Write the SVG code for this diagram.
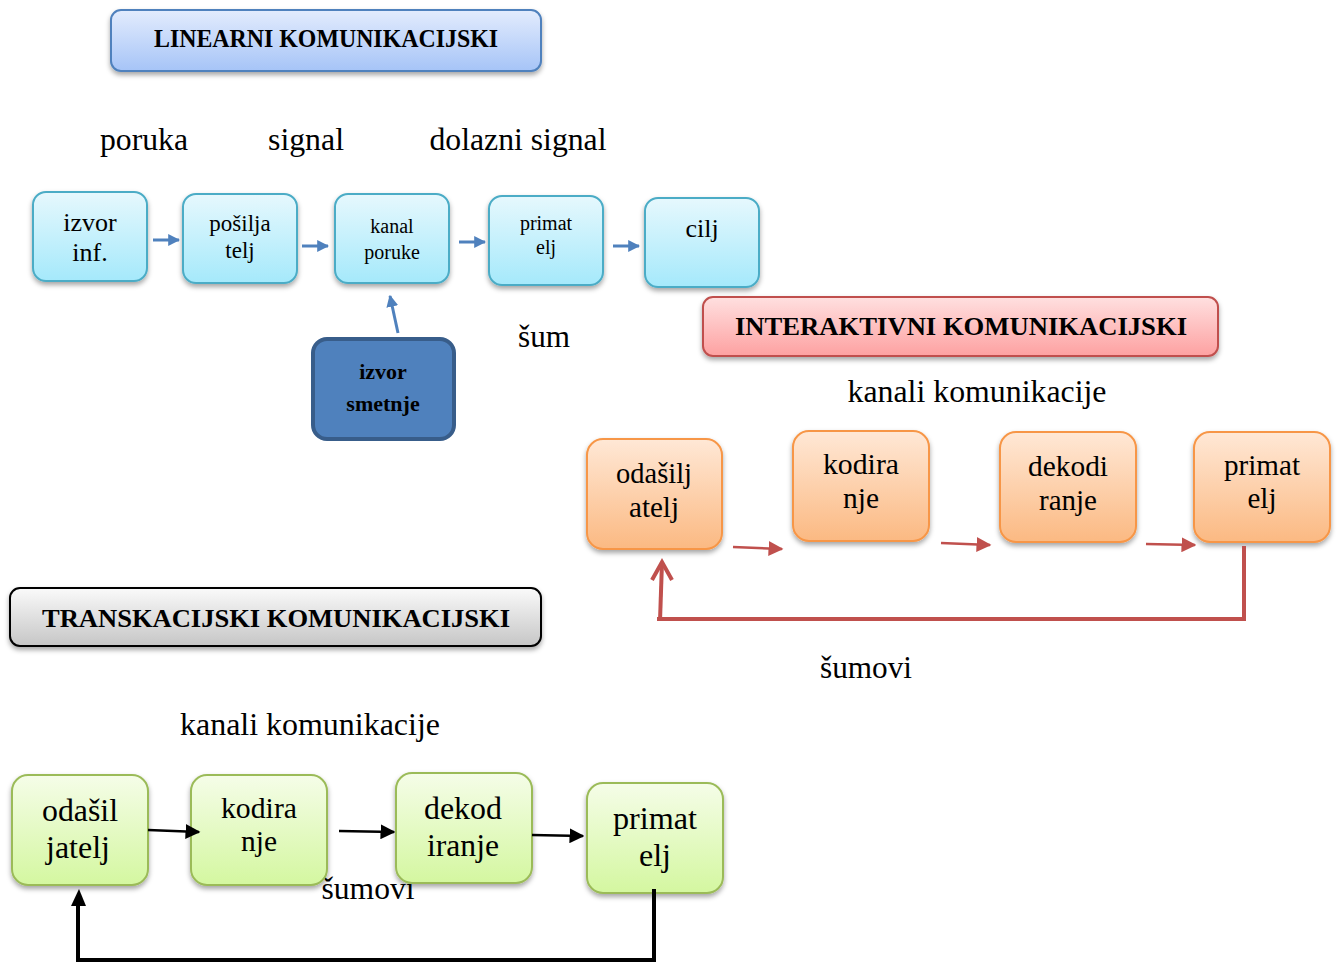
<svg xmlns="http://www.w3.org/2000/svg" width="1338" height="963" viewBox="0 0 1338 963">
<style>
text{font-family:"Liberation Serif","Times New Roman",serif;fill:#000;text-anchor:middle}
.hd{font-weight:bold;font-size:26px}
.lbl{font-size:31px}
.cy{fill:url(#gCyan);stroke:#4bacc6;stroke-width:2}
.or{fill:url(#gOrange);stroke:#f79646;stroke-width:2}
.gr{fill:url(#gGreen);stroke:#9bbb59;stroke-width:2}
.blue{stroke:#4f81bd;stroke-width:3;fill:none}
.red{stroke:#c0504d;stroke-width:4;fill:none}
.blk{stroke:#000;stroke-width:4;fill:none}
</style>
<defs>
<linearGradient id="gCyan" x1="0" y1="0" x2="0" y2="1"><stop offset="0" stop-color="#e6f8fd"/><stop offset="1" stop-color="#a5e9fb"/></linearGradient>
<linearGradient id="gOrange" x1="0" y1="0" x2="0" y2="1"><stop offset="0" stop-color="#ffe8d6"/><stop offset="1" stop-color="#fbb982"/></linearGradient>
<linearGradient id="gGreen" x1="0" y1="0" x2="0" y2="1"><stop offset="0" stop-color="#f5fde8"/><stop offset="1" stop-color="#d4f7a0"/></linearGradient>
<linearGradient id="gBlueH" x1="0" y1="0" x2="0" y2="1"><stop offset="0" stop-color="#e3ecfd"/><stop offset="1" stop-color="#a6c4f7"/></linearGradient>
<linearGradient id="gRedH" x1="0" y1="0" x2="0" y2="1"><stop offset="0" stop-color="#ffe0e0"/><stop offset="1" stop-color="#fda1a1"/></linearGradient>
<linearGradient id="gGrayH" x1="0" y1="0" x2="0" y2="1"><stop offset="0" stop-color="#fafafa"/><stop offset="1" stop-color="#c6c6c6"/></linearGradient>
<filter id="sh" x="-20%" y="-20%" width="140%" height="150%"><feDropShadow dx="0" dy="3" stdDeviation="2.5" flood-color="#000" flood-opacity="0.35"/></filter>
<marker id="aBlue" viewBox="0 0 10 10" refX="9" refY="5" markerWidth="12" markerHeight="12" orient="auto" markerUnits="userSpaceOnUse"><path d="M0,0 L10,5 L0,10 z" fill="#4f81bd"/></marker>
<marker id="aRed" viewBox="0 0 10 10" refX="9" refY="5" markerWidth="15" markerHeight="15" orient="auto" markerUnits="userSpaceOnUse"><path d="M0,0 L10,5 L0,10 z" fill="#c0504d"/></marker>
<marker id="aBlk" viewBox="0 0 10 10" refX="9" refY="5" markerWidth="15" markerHeight="15" orient="auto" markerUnits="userSpaceOnUse"><path d="M0,0 L10,5 L0,10 z" fill="#000"/></marker>
</defs>

<g id="hdr-linear">
<rect x="111" y="10" width="430" height="61" rx="10" fill="url(#gBlueH)" stroke="#4f81bd" stroke-width="2" filter="url(#sh)"/>
<text class="hd" x="326" y="47" textLength="344" lengthAdjust="spacingAndGlyphs">LINEARNI KOMUNIKACIJSKI</text>
</g>
<g id="labels-linear">
<text class="lbl" x="144" y="150" textLength="88" lengthAdjust="spacingAndGlyphs">poruka</text>
<text class="lbl" x="306" y="150" textLength="76" lengthAdjust="spacingAndGlyphs">signal</text>
<text class="lbl" x="518" y="150" textLength="177" lengthAdjust="spacingAndGlyphs">dolazni signal</text>
<text class="lbl" x="544" y="347" textLength="52" lengthAdjust="spacingAndGlyphs">šum</text>
</g>

<g id="n-izvor"><rect class="cy" x="33" y="192" width="114" height="89" rx="13" filter="url(#sh)"/>
<text x="90" y="231" font-size="26">izvor</text><text x="90" y="261" font-size="26">inf.</text></g>
<g id="n-posiljatelj"><rect class="cy" x="183" y="194" width="114" height="89" rx="13" filter="url(#sh)"/>
<text x="240" y="231" font-size="23">pošilja</text><text x="240" y="258" font-size="23">telj</text></g>
<g id="n-kanal"><rect class="cy" x="335" y="194" width="114" height="89" rx="13" filter="url(#sh)"/>
<text x="392" y="233" font-size="20">kanal</text><text x="392" y="259" font-size="20">poruke</text></g>
<g id="n-primatelj1"><rect class="cy" x="489" y="196" width="114" height="89" rx="13" filter="url(#sh)"/>
<text x="546" y="230" font-size="20">primat</text><text x="546" y="254" font-size="20">elj</text></g>
<g id="n-cilj"><rect class="cy" x="645" y="198" width="114" height="89" rx="13" filter="url(#sh)"/>
<text x="702" y="237" font-size="26">cilj</text></g>
<g id="n-smetnje"><rect x="313" y="339" width="141" height="100" rx="14" fill="#4f81bd" stroke="#385d8a" stroke-width="4"/>
<text x="383" y="379" font-size="22" font-weight="bold">izvor</text><text x="383" y="411" font-size="22" font-weight="bold">smetnje</text></g>

<g id="hdr-interactive">
<rect x="703" y="297" width="515" height="59" rx="10" fill="url(#gRedH)" stroke="#c0504d" stroke-width="2" filter="url(#sh)"/>
<text class="hd" x="961" y="335" textLength="452" lengthAdjust="spacingAndGlyphs">INTERAKTIVNI KOMUNIKACIJSKI</text>
</g>
<text x="977" y="402" font-size="31" textLength="259" lengthAdjust="spacingAndGlyphs">kanali komunikacije</text>
<text x="866" y="678" font-size="31" textLength="92" lengthAdjust="spacingAndGlyphs">šumovi</text>

<g id="n-odasiljatelj2"><rect class="or" x="587" y="439" width="135" height="110" rx="16" filter="url(#sh)"/>
<text x="654" y="483" font-size="29" textLength="76" lengthAdjust="spacingAndGlyphs">odašilj</text><text x="654" y="517" font-size="29" textLength="50" lengthAdjust="spacingAndGlyphs">atelj</text></g>
<g id="n-kodiranje2"><rect class="or" x="793" y="431" width="136" height="110" rx="16" filter="url(#sh)"/>
<text x="861" y="474" font-size="29" textLength="76" lengthAdjust="spacingAndGlyphs">kodira</text><text x="861" y="508" font-size="29" textLength="36" lengthAdjust="spacingAndGlyphs">nje</text></g>
<g id="n-dekodiranje2"><rect class="or" x="1000" y="432" width="136" height="110" rx="16" filter="url(#sh)"/>
<text x="1068" y="476" font-size="29" textLength="80" lengthAdjust="spacingAndGlyphs">dekodi</text><text x="1068" y="510" font-size="29" textLength="58" lengthAdjust="spacingAndGlyphs">ranje</text></g>
<g id="n-primatelj2"><rect class="or" x="1194" y="432" width="136" height="110" rx="16" filter="url(#sh)"/>
<text x="1262" y="475" font-size="29" textLength="76" lengthAdjust="spacingAndGlyphs">primat</text><text x="1262" y="508" font-size="29" textLength="29" lengthAdjust="spacingAndGlyphs">elj</text></g>

<g id="hdr-trans">
<rect x="10" y="588" width="531" height="58" rx="10" fill="url(#gGrayH)" stroke="#000" stroke-width="2" filter="url(#sh)"/>
<text class="hd" x="276" y="627" font-size="27" textLength="468" lengthAdjust="spacingAndGlyphs">TRANSKACIJSKI KOMUNIKACIJSKI</text>
</g>
<text x="310" y="735" font-size="31" textLength="260" lengthAdjust="spacingAndGlyphs">kanali komunikacije</text>
<text x="368" y="899" font-size="31" textLength="93" lengthAdjust="spacingAndGlyphs">šumovi</text>

<g id="n-odasiljatelj3"><rect class="gr" x="12" y="775" width="136" height="110" rx="16" filter="url(#sh)"/>
<text x="80" y="821" font-size="31" textLength="76" lengthAdjust="spacingAndGlyphs">odašil</text><text x="78" y="858" font-size="31" textLength="64" lengthAdjust="spacingAndGlyphs">jatelj</text></g>
<g id="n-kodiranje3"><rect class="gr" x="191" y="775" width="136" height="110" rx="16" filter="url(#sh)"/>
<text x="259" y="818" font-size="29" textLength="76" lengthAdjust="spacingAndGlyphs">kodira</text><text x="259" y="851" font-size="29" textLength="36" lengthAdjust="spacingAndGlyphs">nje</text></g>
<g id="n-dekodiranje3"><rect class="gr" x="396" y="773" width="136" height="110" rx="16" filter="url(#sh)"/>
<text x="463" y="819" font-size="31" textLength="78" lengthAdjust="spacingAndGlyphs">dekod</text><text x="463" y="856" font-size="31" textLength="72" lengthAdjust="spacingAndGlyphs">iranje</text></g>
<g id="n-primatelj3"><rect class="gr" x="587" y="783" width="136" height="110" rx="16" filter="url(#sh)"/>
<text x="655" y="829" font-size="31" textLength="84" lengthAdjust="spacingAndGlyphs">primat</text><text x="655" y="866" font-size="31" textLength="32" lengthAdjust="spacingAndGlyphs">elj</text></g>

<g id="connectors">
<line class="blue" x1="153" y1="240" x2="179" y2="240" marker-end="url(#aBlue)"/>
<line class="blue" x1="302" y1="246" x2="328" y2="246" marker-end="url(#aBlue)"/>
<line class="blue" x1="459" y1="242" x2="485" y2="242" marker-end="url(#aBlue)"/>
<line class="blue" x1="613" y1="246" x2="639" y2="246" marker-end="url(#aBlue)"/>
<line class="blue" x1="398" y1="333" x2="390" y2="296" marker-end="url(#aBlue)"/>

<line x1="733" y1="547" x2="782" y2="549" stroke="#c0504d" stroke-width="2.5" marker-end="url(#aRed)"/>
<line x1="941" y1="543" x2="990" y2="545" stroke="#c0504d" stroke-width="2.5" marker-end="url(#aRed)"/>
<line x1="1146" y1="544" x2="1195" y2="545" stroke="#c0504d" stroke-width="2.5" marker-end="url(#aRed)"/>
<polyline class="red" points="1244,546 1244,619 657,619"/>
<line class="red" x1="660" y1="621" x2="662" y2="562"/>
<path d="M652,580 L662,562 L672,580" fill="none" stroke="#c0504d" stroke-width="4"/>

<line x1="148" y1="830" x2="199" y2="832" stroke="#000" stroke-width="2.5" marker-end="url(#aBlk)"/>
<line x1="339" y1="831" x2="394" y2="832" stroke="#000" stroke-width="2.5" marker-end="url(#aBlk)"/>
<line x1="532" y1="835" x2="583" y2="836" stroke="#000" stroke-width="2.5" marker-end="url(#aBlk)"/>
<polyline class="blk" points="654,889 654,960 78,960 78,900"/>
<path d="M71,906 L79,889 L86,906 z" fill="#000"/>
</g>
</svg>
